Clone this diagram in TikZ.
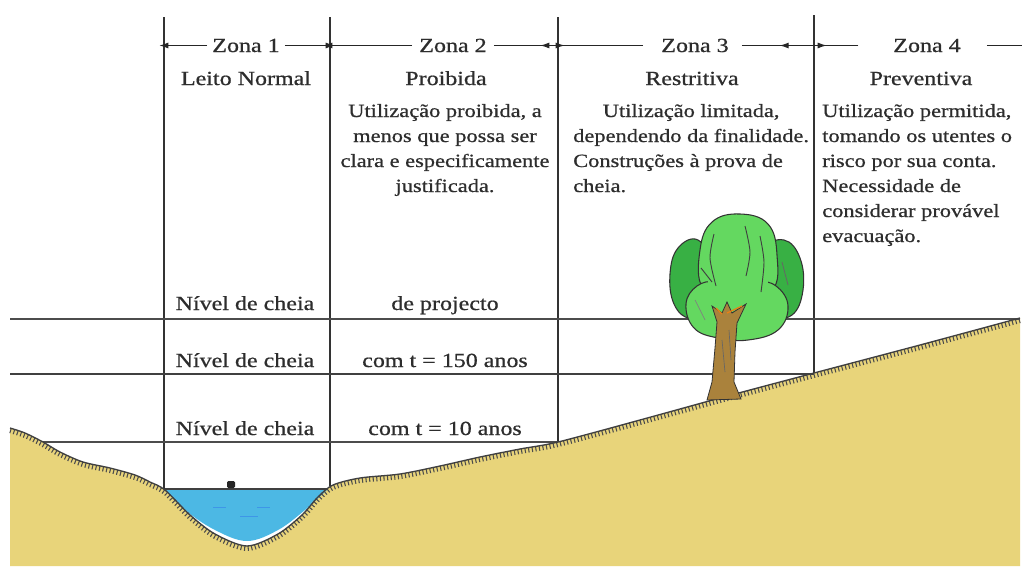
\documentclass[tikz,border=0pt]{standalone}
\usepackage{fontspec}
\setmainfont{Liberation Serif}[FakeStretch=1.2,FakeBold=0.7]
\usetikzlibrary{arrows.meta}
\definecolor{soil}{RGB}{232,212,122}
\definecolor{river}{RGB}{76,184,228}
\definecolor{leafA}{RGB}{100,216,96}
\definecolor{leafB}{RGB}{56,176,68}
\definecolor{bark}{RGB}{170,130,60}
\definecolor{ink}{RGB}{45,45,45}
\begin{document}
\begin{tikzpicture}[x=0.75pt,y=-0.75pt,
  head/.style={font=\fontsize{15}{18}\selectfont, text=ink, inner sep=0pt},
  body/.style={font=\fontsize{14}{18.75}\selectfont, text=ink, inner sep=0pt},
  zarr/.style={draw=black!85, line width=1pt, -{Latex[length=7pt,width=4.5pt]}},
  grid/.style={draw=black!80, line width=1pt},
  edge/.style={draw=black!75, line width=1pt},
  grass/.style={draw=black!70, line width=3.6pt, dash pattern=on 0.8pt off 1.9pt, yshift=-2pt},
  outline/.style={draw=black!80, line width=0.8pt}]
\useasboundingbox (0,0) rectangle (1022,572);
\fill[white] (0,0) rectangle (1022,572);

% ground profile: left bank, river bed, rising right bank
\def\groundline{(10,428) (25,433) (43,442) (60,452) (83,462) (110,468) (135,475)
  (150,482) (165,490) (190,515) (215,534) (247,546) (278,534) (302,515) (318,497)
  (333,485) (360,478) (400,474) (440,466) (480,457) (520,449) (558,442) (640,420)
  (720,398) (814,373) (920,345) (1020,318)}
\fill[soil] plot[smooth, tension=0.5] coordinates {\groundline} -- (1020,566) -- (10,566) -- cycle;

% river water
\fill[river] plot[smooth, tension=0.6] coordinates {(165,489) (185,510) (215,530) (247,541) (278,530) (305,510) (328,489)} -- cycle;
\draw[river!60!blue, line width=0.6pt, opacity=0.45] (213,507) -- (226,507) (257,507) -- (270,507) (240,516) -- (258,516);
\draw[black!75, line width=0.9pt] (165,489) -- (328,489);
\fill[black!85, rounded corners=1pt] (227,481) rectangle (235,488);

% zone boundaries
\coordinate (v1t) at (164,17);  \coordinate (v1b) at (164,489);
\coordinate (v2t) at (330,17);  \coordinate (v2b) at (330,486);
\coordinate (v3t) at (558,17);  \coordinate (v3b) at (558,442);
\coordinate (v4t) at (814,15);  \coordinate (v4b) at (814,373);
\draw[grid] (v1t) -- (v1b);
\draw[grid] (v2t) -- (v2b);
\draw[grid] (v3t) -- (v3b);
\draw[grid] (v4t) -- (v4b);

% flood levels
\coordinate (h1a) at (10,319);  \coordinate (h1b) at (1020,319);
\coordinate (h2a) at (10,374);  \coordinate (h2b) at (814,374);
\coordinate (h3a) at (43,442);  \coordinate (h3b) at (558,442);
\draw[grid, draw=black!70] (h1a) -- (h1b);
\draw[grid, draw=black!75] (h2a) -- (h2b);
\draw[grid, draw=black!70] (h3a) -- (h3b);

% ground surface with grass ticks
\draw[grass] plot[smooth, tension=0.5] coordinates {\groundline};
\draw[edge] plot[smooth, tension=0.5] coordinates {\groundline};

% tree
\draw[outline, fill=leafB] plot[smooth cycle, tension=0.7] coordinates {(670,274) (678,248) (698,240) (712,266) (708,304) (690,318) (674,304)};
\draw[outline, fill=leafB] plot[smooth cycle, tension=0.7] coordinates {(762,250) (784,240) (800,258) (803,290) (792,315) (770,314) (760,282)};
\draw[outline, fill=leafA] plot[smooth cycle, tension=0.7] coordinates {(700,250) (712,222) (740,214) (768,224) (777,255) (772,290) (735,296) (703,288)};
\draw[outline, fill=leafA] plot[smooth cycle, tension=0.7] coordinates {(686,304) (697,286) (716,282) (735,292) (756,282) (776,286) (788,306) (778,330) (748,340) (718,338) (694,328)};
\fill[leafA] (708,280) rectangle (768,294);
\draw[black!75, line width=0.7pt] plot[smooth] coordinates {(714,234) (710,258) (716,286)};
\draw[black!75, line width=0.7pt] plot[smooth] coordinates {(745,226) (750,252) (746,276)};
\draw[black!75, line width=0.7pt] plot[smooth] coordinates {(760,236) (764,262) (761,292)};
\draw[black!75, line width=0.7pt] plot[smooth] coordinates {(701,268) (712,282)};
\draw[black!60, line width=0.6pt] plot[smooth] coordinates {(782,262) (788,285)};
\draw[black!50, line width=0.5pt] plot[smooth] coordinates {(695,300) (705,320)};
\draw[outline, line width=0.6pt, fill=bark] (707,400) -- (712,382) -- (715,348) -- (717,322) -- (712,306)
  -- (722,313) -- (727,302) -- (732,313) -- (746,304) -- (737,323) -- (735,352) -- (734,382) -- (741,399) -- cycle;
\draw[black!60, line width=0.5pt] (722,340) -- (725,372) (729,330) -- (731,360);
\draw[orange!70!brown, line width=0.9pt] (727,313) -- (742,306) (722,314) -- (716,308);

% zone headings
\node[head, anchor=base] (z1) at (246,52) {Zona 1};
\node[head, anchor=base] (z2) at (453,52) {Zona 2};
\node[head, anchor=base] (z3) at (695,52) {Zona 3};
\node[head, anchor=base] (z4) at (927,52) {Zona 4};
\coordinate (rend) at (1018,47);
\draw[zarr] ([xshift=-3.75pt]z1.west) -- ([xshift=-3.75pt]z1.west -| v1t);
\draw[zarr] ([xshift=3.75pt]z1.east) -- ([xshift=3.75pt]z1.east -| v2t);
\draw[zarr] ([xshift=-5.25pt]z2.west) -- ([xshift=-5.25pt]z2.west -| v2t);
\draw[zarr] ([xshift=5.25pt]z2.east) -- ([xshift=5.25pt]z2.east -| v3t);
\draw[zarr] ([xshift=-13.5pt]z3.west) -- ([xshift=-13.5pt]z3.west -| v3t);
\draw[zarr] ([xshift=9.75pt]z3.east) -- ([xshift=9.75pt]z3.east -| v4t);
\draw[zarr] ([xshift=-26pt]z4.west) -- ([xshift=-26pt]z4.west -| v4t);
\draw[zarr] ([xshift=19.5pt]z4.east) -- ([xshift=19.5pt]z4.east -| rend);

\node[head, anchor=base] (n1) at (246,85) {Leito Normal};
\node[head, anchor=base] (n2) at (446,85) {Proibida};
\node[head, anchor=base] (n3) at (692,85) {Restritiva};
\node[head, anchor=base] (n4) at (921,85) {Preventiva};

% zone descriptions
\node[body, anchor=base] (p2) at (445,117) {\begin{tabular}[t]{@{}c@{}}Utilização proibida, a\\menos que possa ser\\clara e especificamente\\justificada.\end{tabular}};
\node[body, anchor=base west] (p3) at (573,117) {\begin{tabular}[t]{@{}l@{}}\multicolumn{1}{@{}c@{}}{Utilização limitada,}\\dependendo da finalidade.\\Construções à prova de\\cheia.\end{tabular}};
\node[body, anchor=base west] (p4) at (822,117) {\begin{tabular}[t]{@{}l@{}}Utilização permitida,\\tomando os utentes o\\risco por sua conta.\\Necessidade de\\considerar provável\\evacuação.\end{tabular}};

% flood level labels
\node[head, anchor=base] (l1) at (245,310) {Nível de cheia};
\node[head, anchor=base] (l2) at (245,367) {Nível de cheia};
\node[head, anchor=base] (l3) at (245,435) {Nível de cheia};
\node[head, anchor=base] (r1) at (445,310) {de projecto};
\node[head, anchor=base] (r2) at (445,367) {com t = 150 anos};
\node[head, anchor=base] (r3) at (445,435) {com t = 10 anos};
\end{tikzpicture}
\end{document}
